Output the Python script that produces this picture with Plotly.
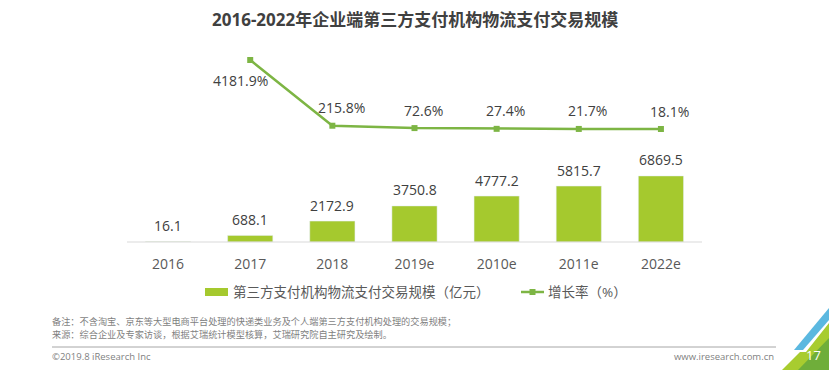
import plotly.graph_objects as go

years = ["2016", "2017", "2018", "2019e", "2010e", "2011e", "2022e"]
volume = [16.1, 688.1, 2172.9, 3750.8, 4777.2, 5815.7, 6869.5]
growth_years = ["2017", "2018", "2019e", "2010e", "2011e", "2022e"]
growth = [4181.9, 215.8, 72.6, 27.4, 21.7, 18.1]

bar_name = "第三方支付机构物流支付交易规模（亿元）"
line_name = "增长率（%）"
title = "2016-2022年企业端第三方支付机构物流支付交易规模"
note1 = "备注：不含淘宝、京东等大型电商平台处理的快递类业务及个人端第三方支付机构处理的交易规模；"
note2 = "来源：综合企业及专家访谈，根据艾瑞统计模型核算，艾瑞研究院自主研究及绘制。"

FONT = "Open Sans, Noto Sans CJK SC, sans-serif"
BAR_C = "#a5c92e"
LINE_C = "#7db544"
TXT = "#404040"

W, H = 829, 370
L, R, T, B = 127, 127, 50, 128
pw, ph = W - L - R, H - T - B
def px(x):
    return (x - L) / pw
def py(y):
    return (H - B - y) / ph

fig = go.Figure()
fig.add_trace(go.Bar(
    x=years, y=volume, name=bar_name, marker_color=BAR_C, width=0.55, showlegend=False,
))
fig.add_trace(go.Scatter(
    x=growth_years, y=growth, name=line_name, yaxis="y2", mode="lines+markers", showlegend=False,
    line=dict(color=LINE_C, width=2.5), marker=dict(symbol="square", size=6, color=LINE_C),
))

anns = []
for yr, v in zip(years, volume):
    anns.append(dict(x=years.index(yr), y=v, xref="x", yref="y", text=f"{v:.1f}", showarrow=False,
                     yanchor="middle", yshift=16, font=dict(size=14, color=TXT, family=FONT)))
for i, (yr, g) in enumerate(zip(growth_years, growth)):
    if i == 0:
        xs, ys = -10, -20
    else:
        xs, ys = 9, 18
    anns.append(dict(x=years.index(yr), y=g, xref="x", yref="y2", text=f"{g}%", showarrow=False,
                     yanchor="middle", xshift=xs, yshift=ys, font=dict(size=14, color=TXT, family=FONT)))

txts = [
    (50, 321, note1, 9.2, "#7f7f7f", "left"),
    (50, 334, note2, 9.2, "#7f7f7f", "left"),
    (50, 356, "©2019.8 iResearch Inc", 9.5, "#7f7f7f", "left"),
    (776, 356, "www.iresearch.com.cn", 9.5, "#7f7f7f", "right"),
    (231, 292, bar_name, 13.5, "#595959", "left"),
    (546, 292, line_name, 13.5, "#595959", "left"),
    (415, 19, "<b>" + title + "</b>", 17, "#404040", "center"),
    (813, 355, "17", 13, "white", "center"),
]
for x, y, t, s, c, al in txts:
    anns.append(dict(x=px(x), y=py(y), xref="paper", yref="paper", text=t, showarrow=False,
                     xanchor=al, yanchor="middle", font=dict(size=s, color=c, family=FONT)))
fig.layout.annotations = anns

shapes = [
    # legend swatches
    dict(type="rect", xref="paper", yref="paper", x0=px(205), x1=px(228), y0=py(296), y1=py(288),
         fillcolor=BAR_C, line=dict(width=0)),
    dict(type="line", xref="paper", yref="paper", x0=px(521), x1=px(544), y0=py(292), y1=py(292),
         line=dict(color=LINE_C, width=2.5)),
    dict(type="rect", xref="paper", yref="paper", x0=px(529.5), x1=px(535.5), y0=py(295), y1=py(289),
         fillcolor=LINE_C, line=dict(width=0)),
    # separators
    dict(type="line", xref="paper", yref="paper", x0=px(52), x1=px(776), y0=py(347), y1=py(347),
         line=dict(color="#a6a6a6", width=1)),
    dict(type="line", xref="paper", yref="paper", x0=px(127), x1=px(702), y0=py(242), y1=py(242),
         line=dict(color="#d9d9d9", width=1)),
    # corner decoration
    dict(type="path", xref="paper", yref="paper",
         path=f"M {px(829)},{py(308)} L {px(829)},{py(320)} L {px(803)},{py(350)} L {px(794)},{py(350)} Z",
         fillcolor="#5bb8e0", line=dict(width=0)),
    dict(type="path", xref="paper", yref="paper",
         path=f"M {px(829)},{py(323)} L {px(829)},{py(370)} L {px(782)},{py(370)} L {px(800)},{py(352)} L {px(806)},{py(352)} Z",
         fillcolor="#a8cc2f", line=dict(width=0)),
    dict(type="path", xref="paper", yref="paper",
         path=f"M {px(829)},{py(338)} L {px(829)},{py(370)} L {px(798)},{py(370)} Z",
         fillcolor="#6fae3a", line=dict(width=0)),
]
fig.layout.shapes = shapes

fig.update_layout(
    width=W, height=H, margin=dict(l=L, r=R, t=T, b=B, autoexpand=False),
    paper_bgcolor="white", plot_bgcolor="white",
    font=dict(family=FONT, color="#595959"),
    showlegend=False,
    xaxis=dict(type="category", range=[-0.5, 6.5], showgrid=False, showline=False, zeroline=False,
               ticks="", tickfont=dict(size=14, color="#595959", family=FONT), ticklabelstandoff=12),
    yaxis=dict(range=[0, 192 * 104], visible=False, fixedrange=True),
    yaxis2=dict(range=[18.1 - 113 * 60.35, 4181.9 + 10 * 60.35], overlaying="y", visible=False),
)

fig.write_html("out.html", config={"displayModeBar": False},
               post_script="document.body.style.margin='0';document.body.style.overflow='hidden';")
